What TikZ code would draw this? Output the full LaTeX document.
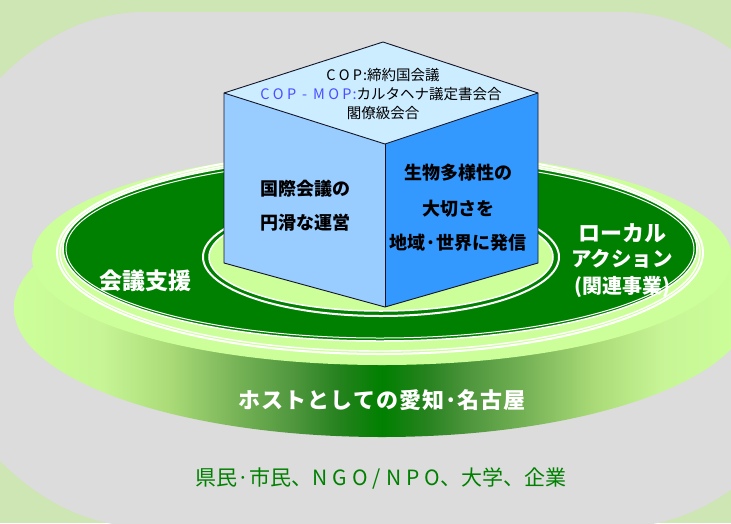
\documentclass[tikz,border=0pt]{standalone}
\usepackage{fontspec}
\setmainfont{Noto Sans CJK JP}
\definecolor{bgG}{RGB}{206,229,180}
\definecolor{grayB}{RGB}{220,220,220}
\definecolor{lg}{RGB}{204,255,153}
\definecolor{dg}{RGB}{0,128,0}
\definecolor{cubeTop}{RGB}{204,236,255}
\definecolor{cubeL}{RGB}{153,204,255}
\definecolor{cubeR}{RGB}{51,153,255}
\definecolor{copblue}{RGB}{77,77,255}
\definecolor{edgeC}{RGB}{20,20,40}
\pgfdeclarehorizontalshading{band}{100bp}{%
rgb(0bp)=(0.8,1,0.6); rgb(25bp)=(0.8,1,0.6); rgb(31bp)=(0.78,0.96,0.59);
rgb(35.5bp)=(0.67,0.86,0.47); rgb(40.5bp)=(0.45,0.69,0.33); rgb(44bp)=(0.31,0.59,0.24);
rgb(47bp)=(0.15,0.51,0.12); rgb(50bp)=(0,0.5,0); rgb(53bp)=(0.15,0.51,0.12);
rgb(56bp)=(0.31,0.59,0.24); rgb(59.5bp)=(0.45,0.69,0.33); rgb(64.5bp)=(0.67,0.86,0.47);
rgb(69bp)=(0.78,0.96,0.59); rgb(75bp)=(0.8,1,0.6); rgb(100bp)=(0.8,1,0.6)}
\newcommand{\lsp}{\hspace{3.3pt}}
\newcommand{\lbsp}{\hspace{5pt}}
\newcommand{\hsp}{\hspace{6pt}}
\tikzset{
  topface/.style={font=\fontsize{14.5}{16}\selectfont, inner sep=0pt},
  facetext/.style={font=\fontsize{18}{20}\selectfont\bfseries, inner sep=0pt},
  ringtext/.style={font=\fontsize{22}{24}\selectfont\bfseries, text=white, inner sep=0pt},
  bandtext/.style={font=\fontsize{22}{24}\selectfont\bfseries, text=white, inner sep=0pt},
  bottomtext/.style={font=\fontsize{21}{24}\selectfont, text=dg, inner sep=0pt},
  cubeedge/.style={draw=edgeC, line width=0.9pt, line join=round},
  ringline/.style={draw=white}
}
\begin{document}
\begin{tikzpicture}[x=1pt,y=-1pt]
\useasboundingbox (0,0) rectangle (731,523);
% background
\fill[bgG] (0,0) rectangle (731,523);
% gray rounded panel
\fill[grayB] (145,12) rectangle (620,527);
\begin{scope}
  \clip (145,402) ellipse [x radius=260pt, y radius=390pt];
  \fill[grayB] (145,137) ellipse [x radius=260pt, y radius=390pt];
\end{scope}
\begin{scope}
  \clip (620,402) ellipse [x radius=260pt, y radius=390pt];
  \fill[grayB] (620,137) ellipse [x radius=260pt, y radius=390pt];
\end{scope}
% disk side (band)
\shade[shading=band] (382,308) ellipse [x radius=368pt, y radius=129pt];
% disk top face
\fill[lg] (382,258) ellipse [x radius=350pt, y radius=107pt];
% outer white rings
\draw[ringline, line width=2pt] (380,252.5) ellipse [x radius=323pt, y radius=101.5pt];
\draw[ringline, line width=1.4pt] (380,252.3) ellipse [x radius=320pt, y radius=98.7pt];
% dark green ring
\fill[dg] (380,248.6) ellipse [x radius=317pt, y radius=92.4pt];
\draw[ringline, line width=1.5pt] (380,248.6) ellipse [x radius=317pt, y radius=92.4pt];
\draw[ringline, line width=1pt] (380,249) ellipse [x radius=314pt, y radius=89pt];
% inner light green ellipse
\draw[ringline, line width=2pt] (381,257) ellipse [x radius=178pt, y radius=59pt];
\fill[lg] (381,257) ellipse [x radius=172pt, y radius=54pt];
\draw[ringline, line width=1.5pt] (381,257) ellipse [x radius=172pt, y radius=54pt];
% cube
\coordinate (T) at (383,42);
\coordinate (L) at (224,93);
\coordinate (F) at (385,144);
\coordinate (R) at (538,93);
\coordinate (BL) at (224,263);
\coordinate (BF) at (385,307);
\coordinate (BR) at (538,263);
\fill[cubeL] (L) -- (F) -- (BF) -- (BL) -- cycle;
\fill[cubeR] (F) -- (R) -- (BR) -- (BF) -- cycle;
\fill[cubeTop] (T) -- (R) -- (F) -- (L) -- cycle;
\draw[cubeedge] (T) -- (R) -- (BR) -- (BF) -- (BL) -- (L) -- cycle;
\draw[cubeedge] (L) -- (F) -- (R);
\draw[cubeedge] (F) -- (BF);
% top face text
\node[topface] (t1) at (383,75) {C\lsp O\lsp P\hspace{1pt}:締約国会議};
\node[topface] (t2) at (381,94) {\textcolor{copblue}{C\lsp O\lsp P\hsp-\hsp M\lsp O\lsp P\hspace{1pt}:}カルタヘナ議定書会合};
\node[topface] (t3) at (383,113) {閣僚級会合};
% left face text
\node[facetext] (l1) at (305,189) {国際会議の};
\node[facetext] (l2) at (305,223) {円滑な運営};
% right face text
\node[facetext] (r1) at (458,173) {生物多様性の};
\node[facetext] (r2) at (458,209) {大切さを};
\node[facetext] (r3) at (458,243) {地域·世界に発信};
% ring texts
\node[ringtext, font=\fontsize{23}{25}\selectfont\bfseries] (k1) at (145,281) {会議支援};
\node[ringtext] (k2) at (622,233) {ローカル};
\node[ringtext, font=\fontsize{20.5}{23}\selectfont\bfseries] (k3) at (622,259) {アクション};
\node[ringtext, font=\fontsize{20}{23}\selectfont\bfseries] (k4) at (622,287) {(関連事業)};
% band text
\node[bandtext] (b1) at (382,400) {ホ\kern1pt ス\kern1pt ト\kern1pt と\kern1pt し\kern1pt て\kern1pt の\kern1pt 愛\kern1pt 知·名\kern1pt 古\kern1pt 屋};
% bottom text
\node[bottomtext] (s1) at (381,478) {県民·市民、N\lbsp G\lbsp O\lbsp /\lbsp N\lbsp P\lbsp O、大学、企業};
\end{tikzpicture}
\end{document}
